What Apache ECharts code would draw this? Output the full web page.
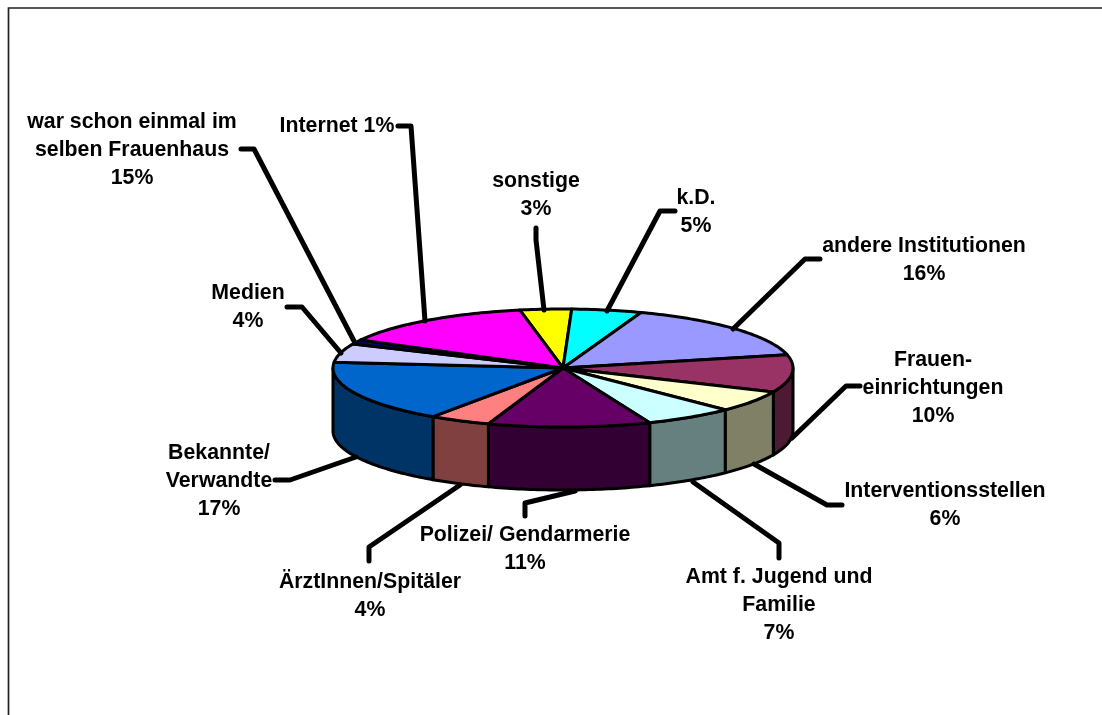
<!DOCTYPE html>
<html>

<head>
	<meta charset="UTF-8">
	<title></title>
	<style>
		html,
		body {
			margin: 0;
			background: #fff;
		}

		#chart {
			width: 1102px;
			height: 715px;
		}
	</style>
	<script src="https://cdn.jsdelivr.net/npm/echarts@6/dist/echarts.min.js"></script>
</head>

<body>
	<div id="chart"></div>
	<script>
		// slices in drawing order, clockwise
		var names = [
			'sonstige\n3%', 'k.D.\n5%', 'andere Institutionen\n16%', 'Frauen-\neinrichtungen\n10%',
			'Interventionsstellen\n6%', 'Amt f. Jugend und\nFamilie\n7%', 'Polizei/ Gendarmerie\n11%',
			'ÄrztInnen/Spitäler\n4%', 'Bekannte/\nVerwandte\n17%', 'Medien\n4%',
			'war schon einmal im\nselben Frauenhaus\n15%', 'Internet 1%'
		];
		var shares = [3.6, 4.9, 15.9, 10.2, 5.9, 6.3, 11.4, 4.3, 17.0, 5.1, 1.2, 14.1];
		var topColors = ['#FFFF00', '#00FFFF', '#9999FF', '#993366', '#FFFFCC', '#CCFFFF', '#660066', '#FF8080', '#0066CC', '#CCCCFF', '#000080', '#FF00FF'];
		var sideColors = ['#808000', '#008080', '#4D4D80', '#4D1A33', '#808066', '#668080', '#330033', '#804040', '#003366', '#666680', '#000040', '#800080'];

		// pie layout
		var cx = 563, cy = 368, rx = 230, ry = 59, depth = 63;
		var startAngle = -10.8;

		// label centres and leader lines, same order as names
		var labelPos = [
			[536, 195], [696, 212], [924, 260], [933, 388], [945, 505], [779, 605],
			[525, 549], [370, 596], [219, 481], [248, 307], [132, 150], [337, 126]
		];
		var leaders = [
			[[536, 228], [536, 240], [544, 310]],
			[[675, 211], [660, 211], [607, 311]],
			[[820, 259], [805, 259], [733, 329]],
			[[860, 386], [846, 386], [792, 438]],
			[[842, 505], [827, 505], [754, 464]],
			[[779, 558], [779, 543], [693, 482]],
			[[525, 516], [525, 503], [575, 491]],
			[[369, 561], [369, 547], [460, 485]],
			[[275, 480], [290, 480], [356, 457]],
			[[287, 307], [302, 307], [341, 353]],
			[[241, 149], [254, 149], [354, 341]],
			[[398, 126], [411, 126], [425, 321]]
		];

		var total = shares.reduce(function (a, b) { return a + b; }, 0);
		var acc = startAngle;
		var sliceData = shares.map(function (v, i) {
			var from = acc;
			acc += v / total * 360;
			return [from, acc, i];
		});

		// angle is clockwise from 12 o'clock
		function ellipsePoint(deg, dy) {
			var a = deg * Math.PI / 180;
			return [cx + rx * Math.sin(a), cy - ry * Math.cos(a) + (dy || 0)];
		}

		function arc(from, to, dy) {
			var pts = [];
			var n = Math.max(2, Math.ceil(Math.abs(to - from)));
			for (var i = 0; i <= n; i++) {
				pts.push(ellipsePoint(from + (to - from) * i / n, dy));
			}
			return pts;
		}

		function renderSide(params, api) {
			var from = Math.max(api.value(0), 90);
			var to = Math.min(api.value(1), 270);
			if (to <= from) {
				return;
			}
			return {
				type: 'polygon',
				shape: { points: arc(from, to, 0).concat(arc(to, from, depth)) },
				style: { fill: sideColors[api.value(2)], stroke: '#000', lineWidth: 3, lineJoin: 'round' }
			};
		}

		function renderTop(params, api) {
			return {
				type: 'polygon',
				shape: { points: [[cx, cy]].concat(arc(api.value(0), api.value(1), 0)) },
				style: { fill: topColors[api.value(2)], stroke: '#000', lineWidth: 3, lineJoin: 'round' }
			};
		}

		function renderLabel(params, api) {
			var i = api.value(2);
			return {
				type: 'group',
				children: [
					{
						type: 'polyline',
						shape: { points: leaders[i] },
						style: { fill: null, stroke: '#000', lineWidth: 5, lineCap: 'round', lineJoin: 'round' }
					},
					{
						type: 'text',
						style: {
							x: labelPos[i][0],
							y: labelPos[i][1],
							text: names[i],
							fill: '#000',
							font: 'bold 21.3px "Liberation Sans"',
							lineHeight: 28,
							align: 'center',
							verticalAlign: 'middle'
						}
					}
				]
			};
		}

		var myChart = echarts.init(document.getElementById('chart'));
		myChart.setOption({
			animation: false,
			graphic: [
				{
					type: 'polyline',
					shape: { points: [[8.5, 715], [8.5, 8], [1102, 8]] },
					style: { fill: null, stroke: '#222', lineWidth: 1.7 }
				}
			],
			series: [
				{ type: 'custom', coordinateSystem: 'none', renderItem: renderSide, data: sliceData, silent: true, z: 1 },
				{ type: 'custom', coordinateSystem: 'none', renderItem: renderTop, data: sliceData, silent: true, z: 2 },
				{ type: 'custom', coordinateSystem: 'none', renderItem: renderLabel, data: sliceData, silent: true, z: 3 }
			]
		});
	</script>
</body>

</html>
